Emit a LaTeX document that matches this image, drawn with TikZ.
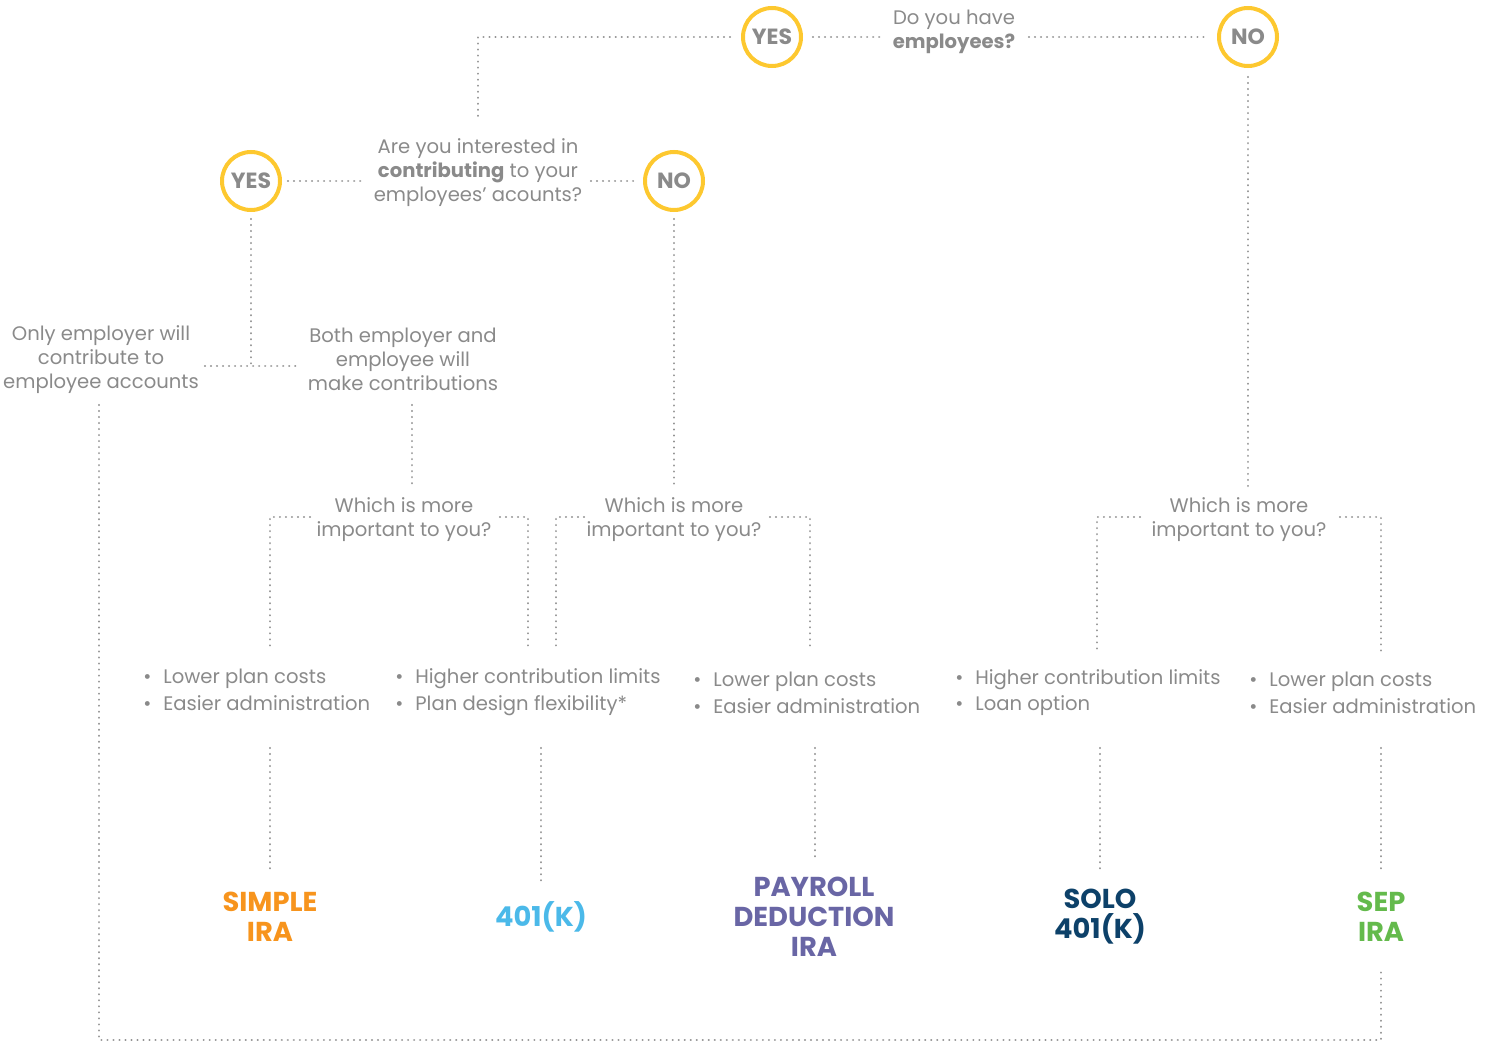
\documentclass[tikz,border=0pt]{standalone}
\usepackage{fontspec}
\setmainfont{Poppins}
\usetikzlibrary{calc}
\definecolor{txt}{HTML}{8A8A8A}
\definecolor{dotc}{HTML}{939393}
\definecolor{ringc}{HTML}{FDC82F}
\definecolor{corange}{HTML}{F7941D}
\definecolor{cblue}{HTML}{4BB9E9}
\definecolor{cpurple}{HTML}{6966A5}
\definecolor{cnavy}{HTML}{0D4169}
\definecolor{cgreen}{HTML}{64BA4C}
\begin{document}
\begin{tikzpicture}[x=0.75pt,y=-0.75pt,
 dots/.style={draw=dotc,line width=1.7pt,line cap=round,dash pattern=on 0.01pt off 4.5pt},
 q/.style={text=txt,align=center,inner sep=0pt,font=\fontsize{14.7}{18}\selectfont},
 ring/.style={circle,draw=ringc,line width=3pt,minimum size=43.5pt,inner sep=0pt,text=txt,font=\fontsize{16.5}{18}\selectfont\bfseries},
 lst/.style={text=txt,align=left,inner sep=0pt,anchor=west,font=\fontsize{14.7}{20}\selectfont},
 res/.style={align=center,inner sep=0pt,font=\fontsize{20.5}{22.5}\selectfont\bfseries}]
\useasboundingbox (0,0) rectangle (1492,1042);
% decision nodes
\node[ring] (yes1) at (772,37) {YES};
\node[ring] (no1) at (1248,37) {NO};
\node[q] (q1) at (954,32) {Do you have\\\textbf{employees?}};
\node[q] (q2) at (478,173) {Are you interested in\\\textbf{contributing} to your\\employees’ acounts?};
\node[ring] (yes2) at (251,181) {YES};
\node[ring] (no2) at (674,181) {NO};
\node[q] (only) at (101,360) {Only employer will\\contribute to\\employee accounts};
\node[q] (both) at (403,359) {Both employer and\\employee will\\make contributions};
\node[q] (w1) at (404,520) {Which is more\\important to you?};
\node[q] (w2) at (674,520) {Which is more\\important to you?};
\node[q] (w3) at (1239,520) {Which is more\\important to you?};
% lists
\node[lst] (l1) at (143,689.5) {•\hspace{9pt}Lower plan costs\\•\hspace{9pt}Easier administration};
\node[lst] (l2) at (395,692.5) {•\hspace{9pt}Higher contribution limits\\•\hspace{9pt}Plan design flexibility*};
\node[lst] (l3) at (693,692.5) {•\hspace{9pt}Lower plan costs\\•\hspace{9pt}Easier administration};
\node[lst] (l4) at (955,692.5) {•\hspace{9pt}Higher contribution limits\\•\hspace{9pt}Loan option};
\node[lst] (l5) at (1249,692.5) {•\hspace{9pt}Lower plan costs\\•\hspace{9pt}Easier administration};
% results
\node[res,text=corange] (simple) at (270,917) {SIMPLE\\IRA};
\node[res,text=cblue] (k401) at (541,917) {401(K)};
\node[res,text=cpurple] (payroll) at (814,917) {PAYROLL\\DEDUCTION\\IRA};
\node[res,text=cnavy] (solo) at (1100,917) {SOLO\\401(K)};
\node[res,text=cgreen] (sep) at (1381,917) {SEP\\IRA};
% coordinates
\coordinate (k1) at (478,37);
\coordinate (k1b) at (478,121);
\coordinate (j) at (251,366);
\coordinate (bothd) at (412,405);
\coordinate (bothe) at (412,485);
\coordinate (onlyd) at (99,405);
\coordinate (bl) at (99,1040);
\coordinate (br) at (1381,1040);
\coordinate (sepu) at (1381,968);
% top connectors
\draw[dots] (730,37) -- (k1) -- (k1b);
\draw[dots] (813,37) -- (882,37);
\draw[dots] (1029,37) -- (1209,37);
\draw[dots] (1248,77) -- (1248,486);
\draw[dots] (288,181) -- (365,181);
\draw[dots] (591,181) -- (637,181);
\draw[dots] (251,219) -- (j);
\draw[dots] (205,366) -- (298,366);
\draw[dots] (674,219) -- (674,486);
\draw[dots] (bothd) -- (bothe);
\draw[dots] (onlyd) -- (bl) -- (br) -- (sepu);
% brackets
\draw[dots] (310,517) -- (270,517) -- (270,651);
\draw[dots] (500,517) -- (528,517) -- (528,651);
\draw[dots] (584,517) -- (556,517) -- (556,651);
\draw[dots] (770,517) -- (810,517) -- (810,651);
\draw[dots] (1140,517) -- (1097,517) -- (1097,651);
\draw[dots] (1340,517) -- (1381,517) -- (1381,651);
% lower connectors
\draw[dots] (270,748) -- (270,870);
\draw[dots] (541,748) -- (541,886);
\draw[dots] (815,748) -- (815,860);
\draw[dots] (1100,748) -- (1100,870);
\draw[dots] (1381,748) -- (1381,870);
\end{tikzpicture}
\end{document}
